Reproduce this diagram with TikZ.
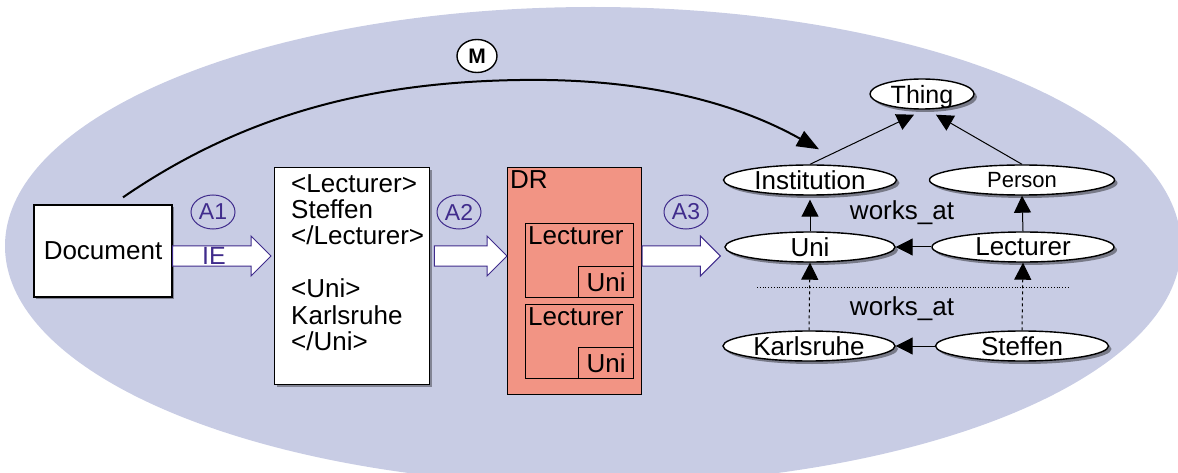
\documentclass[tikz,border=0pt]{standalone}
\usepackage{fontspec}
\setmainfont{Liberation Sans}
\usetikzlibrary{arrows.meta,shapes.geometric,shadows,calc}

\definecolor{backfill}{RGB}{200,204,228}
\definecolor{drfill}{RGB}{242,148,132}
\definecolor{stepink}{RGB}{64,44,140}

\begin{document}
\begin{tikzpicture}[x=1pt,y=-1pt,>=Latex,
    font=\fontsize{26}{31}\selectfont,
    box/.style={draw, line width=1.3pt, fill=white,
      drop shadow={shadow xshift=2pt, shadow yshift=-2pt, fill=black, opacity=.35}},
    drbox/.style={draw, line width=1pt, fill=drfill},
    recbox/.style={draw, line width=1.3pt, inner sep=0pt},
    concept/.style={ellipse, draw, line width=1.4pt, fill=white,
      inner sep=0pt, text depth=0pt, minimum height=30,
      drop shadow={shadow xshift=3pt, shadow yshift=-3pt, fill=black, opacity=.4}},
    steplabel/.style={ellipse, draw=stepink, line width=1pt, text=stepink,
      inner sep=0pt, minimum width=44, minimum height=34,
      font=\fontsize{23}{27}\selectfont},
    isa/.style={->, line width=1pt, >={Triangle[length=17pt,width=17pt]}},
    inst/.style={isa, dashed},
    bigarrow/.style={draw=stepink, line width=1pt, fill=white,
      to path={($(\tikztostart)+(0,10)$) -- ($(\tikztotarget)+(-20,10)$)
        -- ($(\tikztotarget)+(-20,20)$) -- (\tikztotarget)
        -- ($(\tikztotarget)+(-20,-20)$) -- ($(\tikztotarget)+(-20,-10)$)
        -- ($(\tikztostart)+(0,-10)$) -- cycle}}]
  \useasboundingbox (0,0) rectangle (1178,473);
  \begin{scope}
    \clip (0,0) rectangle (1178,473);
    \fill[backfill] (593,246) ellipse[x radius=588, y radius=239];
  \end{scope}

  % source, extraction, records
  \node[box, minimum width=138, minimum height=92] (doc) at (103,251) {Document};
  \node[box, minimum width=155, minimum height=217, anchor=north west] (xml) at (274,167) {};
  \node[anchor=north west, align=left, inner sep=0pt] (xmltext)
    at ([xshift=17,yshift=-7]xml.north west)
    {<Lecturer>\\[-4.6pt] Steffen\\[-4.6pt] </Lecturer>\\[21.8pt] <Uni>\\[-4.6pt] Karlsruhe\\[-4.6pt] </Uni>};

  \node[drbox, minimum width=134, minimum height=227, anchor=north west] (dr) at (507,167) {};
  \node[anchor=north west, inner sep=3pt] (drname) at (dr.north west) {DR};
  \node[recbox, minimum width=108, minimum height=74, anchor=north west] (rec1) at (525,223) {};
  \node[anchor=north west, inner sep=3pt] (lec1) at (rec1.north west) {Lecturer};
  \node[recbox, minimum width=55, minimum height=31, anchor=south east] (uni1) at (rec1.south east) {Uni};
  \node[recbox, minimum width=108, minimum height=74, anchor=north west] (rec2) at (525,304) {};
  \node[anchor=north west, inner sep=3pt] (lec2) at (rec2.north west) {Lecturer};
  \node[recbox, minimum width=55, minimum height=31, anchor=south east] (uni2) at (rec2.south east) {Uni};

  % ontology
  \node[concept, minimum width=104, font=\fontsize{25}{30}\selectfont] (thing) at (922,94) {Thing};
  \node[concept, minimum width=173] (inst) at (810,180) {Institution};
  \node[concept, minimum width=185, font=\fontsize{22}{26}\selectfont] (person) at (1022,180) {Person};
  \node[concept, minimum width=170] (uni) at (810,247) {Uni};
  \node[concept, minimum width=182] (lect) at (1023,247) {Lecturer};
  \node[concept, minimum width=172] (karl) at (809,346) {Karlsruhe};
  \node[concept, minimum width=173] (steff) at (1022,346) {Steffen};
  \node (rel1) at (902,213) {works\_at};
  \node (rel2) at (902,309) {works\_at};

  \draw[isa] (inst.north) -- ([xshift=-8,yshift=-5]thing.south);
  \draw[isa] (person.north) -- ([xshift=14,yshift=-5]thing.south);
  \draw[isa, shorten >=4pt] (uni.north) -- (inst.south);
  \draw[isa] (lect.north) -- (person.south);
  \draw[isa] (lect.west) -- (uni.east);
  \draw[inst] (karl.north) -- (uni.south);
  \draw[inst] (steff.north) -- (lect.south);
  \draw[isa] (steff.west) -- (karl.east);
  \draw[dotted, line width=.8pt] (757,287) -- (1070,287);

  % process arrows
  \coordinate (flow) at (0,256);
  \draw[bigarrow] (doc.east |- flow) to ([xshift=-3]xml.west |- flow);
  \draw[bigarrow] ([xshift=4]xml.east |- flow) to (dr.west |- flow);
  \draw[bigarrow] (dr.east |- flow) to ([xshift=-4]uni.west |- flow);
  \node[text=stepink, font=\fontsize{25}{29}\selectfont, inner sep=0pt] (ie) at (214,256) {IE};
  \node[steplabel] (a1) at (213,212) {A1};
  \node[steplabel] (a2) at (459,212) {A2};
  \node[steplabel] (a3) at (686,212) {A3};

  % mapping
  \draw[->, line width=2pt, >={Triangle[length=22pt,width=17pt]}]
    ([xshift=20,yshift=7]doc.north) .. controls (250,110) and (380,82) .. (520,80)
    .. controls (650,78) and (740,105) .. ([xshift=9,yshift=15]inst.north);
  \node[ellipse, draw, line width=1.4pt, fill=white, inner sep=0pt,
    minimum width=40, minimum height=33, font=\fontsize{21}{25}\selectfont\bfseries] (map) at (477,56) {M};
\end{tikzpicture}
\end{document}
